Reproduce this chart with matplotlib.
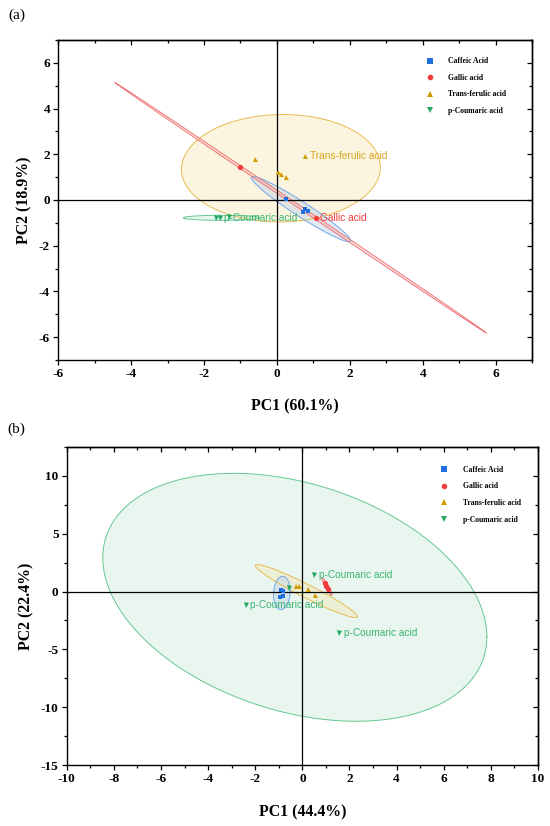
import numpy as np
import matplotlib
matplotlib.use("Agg")
import matplotlib.pyplot as plt
from matplotlib.lines import Line2D
from matplotlib.ticker import MultipleLocator, NullFormatter

plt.rcParams["axes.unicode_minus"] = False

# ======================================================
# DATA
# ======================================================

GROUPS = ["Caffeic Acid", "Gallic acid", "Trans-ferulic acid", "p-Coumaric acid"]

# ---- panel (a) scores ----
a_caffeic_x = [0.24, 0.71, 0.78, 0.86]
a_caffeic_y = [0.06, -0.52, -0.40, -0.50]
a_gallic_x = [-1.02, 1.06]
a_gallic_y = [1.45, -0.77]
a_ferulic_x = [-0.60, 0.02, 0.11, 0.24, 0.78]
a_ferulic_y = [1.80, 1.24, 1.12, 1.01, 1.94]
a_coumaric_x = [-1.66, -1.57, -1.32]
a_coumaric_y = [-0.78, -0.78, -0.74]

# confidence ellipses: centre, x half-extent, y half-extent, correlation
a_ell_cx = [0.66, 0.645, 0.11, -1.52]
a_ell_cy = [-0.40, -0.335, 1.39, -0.78]
a_ell_sx = [1.363, 5.095, 2.73, 1.05]
a_ell_sy = [1.427, 5.475, 2.35, 0.11]
a_ell_rho = [-0.964, -0.99991, 0.02, 0.0]

# point labels: (group index, point index)
a_labels = [(2, 4), (1, 1), (3, 1)]

# ---- panel (b) scores ----
b_caffeic_x = [-0.92, -0.82, -0.95, -0.82]
b_caffeic_y = [0.10, 0.05, -0.45, -0.35]
b_gallic_x = [0.96, 1.02, 1.08]
b_gallic_y = [0.75, 0.50, 0.25]
b_ferulic_x = [-0.29, -0.15, 0.25, 0.52]
b_ferulic_y = [0.46, 0.46, 0.25, -0.30]
b_coumaric_x = [0.51, -2.39, 1.57, -0.58]
b_coumaric_y = [1.44, -1.15, -3.62, 0.27]

b_ell_cx = [-0.87, 1.04, 0.17, -0.32]
b_ell_cy = [-0.12, 0.43, 0.04, -0.50]
b_ell_sx = [0.354, 0.214, 2.164, 8.15]
b_ell_sy = [1.43, 0.753, 2.288, 10.7]
b_ell_rho = [0.10, -0.927, -0.9596, -0.319]

b_labels = [(3, 0), (3, 1), (3, 2)]

# ======================================================
# STYLE
# ======================================================

MARKERS = ["s", "o", "^", "v"]
MARKER_SIZES = [3.4, 3.8, 3.6, 3.6]
POINT_COLORS = ["#1f6fe0", "#f23b3b", "#d19c00", "#27a862"]
LABEL_COLORS = ["#3a7fe0", "#f23a3a", "#d9a520", "#3cb574"]
EDGE_COLORS = ["#6fa8e8", "#f07878", "#e8bb50", "#66c892"]
FILL_COLORS = ["#b7cde8", "#f7a8a8", "#f6e3a6", "#bfe6cf"]
FILL_ALPHA = [0.40, 0.35, 0.35, 0.33]
DRAW_ORDER_A = [2, 3, 0, 1]
DRAW_ORDER_B = [3, 2, 0, 1]

SERIF = ["Liberation Serif", "DejaVu Serif"]
SANS = ["Liberation Sans", "DejaVu Sans"]


def ellipse_xy(cx, cy, sx, sy, rho, n=400):
    t = np.linspace(0, 2 * np.pi, n)
    x = cx + sx * np.cos(t)
    y = cy + sy * (rho * np.cos(t) + np.sqrt(1 - rho ** 2) * np.sin(t))
    return x, y


def draw_panel(ax, pts, ell, labels, order, xlim, ylim, xstep, ystep,
               xlabel, ylabel, leg_anchor):
    cx, cy, sx, sy, rho = ell
    for g in order:
        ex, ey = ellipse_xy(cx[g], cy[g], sx[g], sy[g], rho[g])
        ax.fill(ex, ey, color=FILL_COLORS[g], alpha=FILL_ALPHA[g], lw=0, zorder=1)
        ax.plot(ex, ey, color=EDGE_COLORS[g], lw=0.7, zorder=1.5)

    ax.axhline(0, color="black", lw=0.9, zorder=2)
    ax.axvline(0, color="black", lw=0.9, zorder=2)

    for g, (px, py) in enumerate(pts):
        ax.plot(px, py, ls="none", marker=MARKERS[g], ms=MARKER_SIZES[g],
                color=POINT_COLORS[g], mew=0, zorder=3)

    for g, i in labels:
        px, py = pts[g]
        ax.annotate(GROUPS[g], (px[i], py[i]),
                    xytext=(3.2, 0), textcoords="offset points",
                    ha="left", va="center", fontsize=7.3, family=SANS,
                    color=LABEL_COLORS[g], zorder=4)

    ax.set_xlim(*xlim)
    ax.set_ylim(*ylim)
    ax.xaxis.set_major_locator(MultipleLocator(xstep))
    ax.xaxis.set_minor_locator(MultipleLocator(xstep / 2))
    ax.yaxis.set_major_locator(MultipleLocator(ystep))
    ax.yaxis.set_minor_locator(MultipleLocator(ystep / 2))
    ax.tick_params(which="both", direction="out", top=False, right=False,
                   width=0.9)
    ax.tick_params(which="major", length=3.4, pad=2.5)
    ax.tick_params(which="minor", length=2.0)
    for lab in ax.get_xticklabels() + ax.get_yticklabels():
        lab.set_family(SERIF)
        lab.set_fontweight("bold")
        lab.set_fontsize(9.5)

    # inward ticks, no labels, on top and right
    top = ax.secondary_xaxis("top")
    right = ax.secondary_yaxis("right")
    top.xaxis.set_major_locator(MultipleLocator(xstep))
    top.xaxis.set_minor_locator(MultipleLocator(xstep / 2))
    top.xaxis.set_major_formatter(NullFormatter())
    right.yaxis.set_major_locator(MultipleLocator(ystep))
    right.yaxis.set_minor_locator(MultipleLocator(ystep / 2))
    right.yaxis.set_major_formatter(NullFormatter())
    for sec in (top, right):
        sec.tick_params(which="both", direction="in", width=0.9)
        sec.tick_params(which="major", length=3.4)
        sec.tick_params(which="minor", length=2.0)
        for sp in sec.spines.values():
            sp.set_linewidth(1.0)

    for sp in ax.spines.values():
        sp.set_linewidth(1.0)

    ax.set_xlabel(xlabel, family=SERIF, fontweight="bold", fontsize=11.4)
    ax.set_ylabel(ylabel, family=SERIF, fontweight="bold", fontsize=11.4)

    handles = [Line2D([], [], ls="none", marker=MARKERS[g], ms=4.0,
                      color=POINT_COLORS[g], mew=0) for g in range(4)]
    ax.legend(handles, GROUPS, loc="upper left", bbox_to_anchor=leg_anchor,
              frameon=False, borderpad=0, borderaxespad=0, handlelength=1.0,
              handletextpad=1.9, labelspacing=1.12,
              prop={"family": SERIF, "weight": "bold", "size": 5.5})


fig = plt.figure(figsize=(5.5, 8.26), dpi=100)

ax_a = fig.add_axes([0.106, 0.5642, 0.8613, 0.3874])
draw_panel(ax_a,
           [(a_caffeic_x, a_caffeic_y), (a_gallic_x, a_gallic_y),
            (a_ferulic_x, a_ferulic_y), (a_coumaric_x, a_coumaric_y)],
           (a_ell_cx, a_ell_cy, a_ell_sx, a_ell_sy, a_ell_rho),
           a_labels, DRAW_ORDER_A, (-6, 7), (-7, 7), 2, 2,
           "PC1 (60.1%)", "PC2 (18.9%)", (0.7767, 0.946))
ax_a.xaxis.set_label_coords(0.5, -0.146)
ax_a.xaxis.label.set_va("center")
ax_a.yaxis.set_label_coords(-0.0724, 0.5)
ax_a.yaxis.label.set_va("center")

ax_b = fig.add_axes([0.1213, 0.0735, 0.8569, 0.3857])
draw_panel(ax_b,
           [(b_caffeic_x, b_caffeic_y), (b_gallic_x, b_gallic_y),
            (b_ferulic_x, b_ferulic_y), (b_coumaric_x, b_coumaric_y)],
           (b_ell_cx, b_ell_cy, b_ell_sx, b_ell_sy, b_ell_rho),
           b_labels, DRAW_ORDER_B, (-10, 10), (-15, 12.5), 2, 5,
           "PC1 (44.4%)", "PC2 (22.4%)", (0.7931, 0.9399))
ax_b.xaxis.set_label_coords(0.5, -0.1466)
ax_b.xaxis.label.set_va("center")
ax_b.yaxis.set_label_coords(-0.0864, 0.5)
ax_b.yaxis.label.set_va("center")

fig.text(16.7 / 550, 1 - 15 / 826, "(a)", family=SERIF, fontsize=11,
         ha="center", va="center")
fig.text(16.7 / 550, 1 - 429 / 826, "(b)", family=SERIF, fontsize=11,
         ha="center", va="center")

fig.savefig("out.png", dpi=100)
